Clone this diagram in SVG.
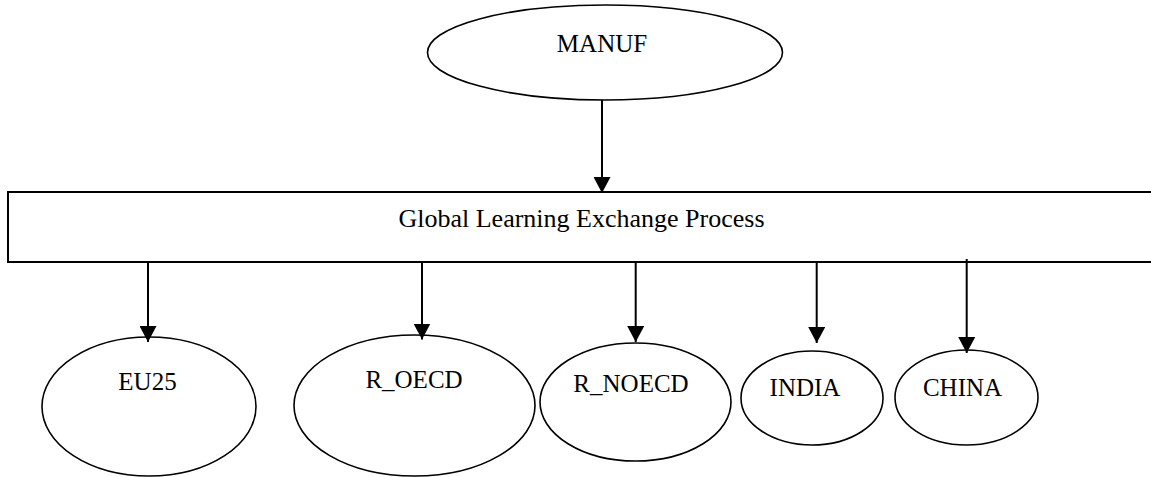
<svg xmlns="http://www.w3.org/2000/svg" width="1151" height="477" viewBox="0 0 1151 477">
<style>
.node ellipse{fill:#fff;stroke:#000;stroke-width:1.6}
.box{fill:#fff;stroke:#000;stroke-width:2}
text{font-family:"Liberation Serif","Times New Roman",serif;font-size:25px;fill:#000;text-anchor:middle}
.conn line{stroke:#000;stroke-width:2;marker-end:url(#arr)}
</style>
<defs>
<marker id="arr" viewBox="0 0 16 17" markerWidth="16" markerHeight="17" markerUnits="userSpaceOnUse" refX="16" refY="8.5" orient="auto">
<path d="M0,0 L16,8.5 L0,17 z" fill="#000"/>
</marker>
</defs>
<rect width="1151" height="477" fill="#fff"/>
<g id="manuf" class="node">
<ellipse cx="605" cy="52.5" rx="177.5" ry="47.5"/>
<text x="602" y="52">MANUF</text>
</g>
<g id="glep">
<path class="box" d="M1160,192 H8 V262 H1160"/>
<text x="581.5" y="227" font-size="26" style="font-size:26px">Global Learning Exchange Process</text>
</g>
<g id="eu25" class="node">
<ellipse cx="149" cy="406.5" rx="107" ry="69.5"/>
<text x="147.5" y="390">EU25</text>
</g>
<g id="roecd" class="node">
<ellipse cx="414.5" cy="405.5" rx="120.5" ry="70.5"/>
<text x="414" y="387.5">R_OECD</text>
</g>
<g id="rnoecd" class="node">
<ellipse cx="635.5" cy="402" rx="95.5" ry="59"/>
<text x="631" y="391.5">R_NOECD</text>
</g>
<g id="india" class="node">
<ellipse cx="812" cy="398" rx="71" ry="47"/>
<text x="805" y="395.5">INDIA</text>
</g>
<g id="china" class="node">
<ellipse cx="966.5" cy="397.5" rx="71.5" ry="47.5"/>
<text x="962.5" y="395.5">CHINA</text>
</g>
<g id="connectors" class="conn">
<line x1="602" y1="100" x2="602" y2="193"/>
<line x1="148" y1="262" x2="148" y2="342"/>
<line x1="422" y1="262" x2="422" y2="339.5"/>
<line x1="635.7" y1="262" x2="635.7" y2="342"/>
<line x1="816.7" y1="262" x2="816.7" y2="343"/>
<line x1="966.7" y1="259" x2="966.7" y2="353"/>
</g>
</svg>
